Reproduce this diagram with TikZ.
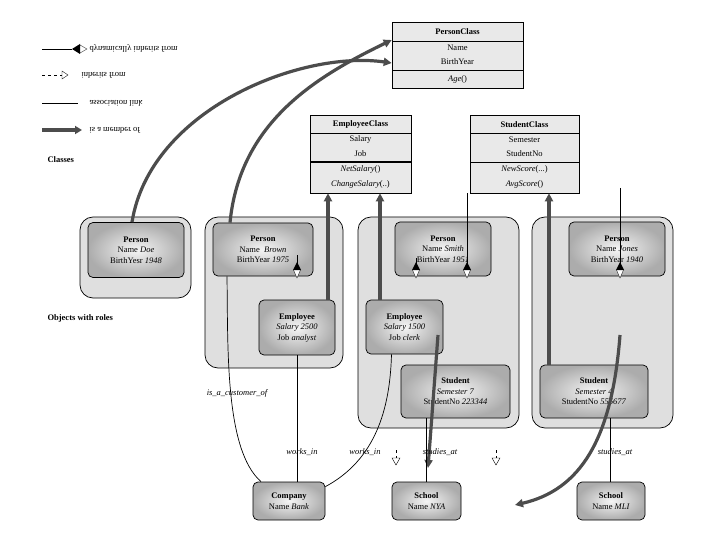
\documentclass[tikz,border=0pt]{standalone}
\usepackage{fontspec}
\setmainfont{Liberation Serif}
\usepackage{graphicx}
\usetikzlibrary{arrows.meta,calc}
\begin{document}
\begin{tikzpicture}[x=1pt,y=-1pt,font=\fontsize{8.5}{10.5}\selectfont,
  obj/.style={draw,rounded corners=5pt,inner color=gray!8,outer color=gray!65,align=center,line width=0.7pt},
  cont/.style={draw,rounded corners=13pt,fill=gray!25,line width=0.7pt},
  cls/.style={draw,fill=gray!17,line width=0.6pt},
  mem/.style={line width=3.2pt,draw=gray!60!black,-{Triangle[length=8pt,width=8pt]}},
  assoc/.style={line width=0.7pt},
  dyn/.pic={\fill (0,-8)--(-4,0)--(4,0)--cycle; \filldraw[fill=white,line width=0.3pt] (-3.5,0)--(3.5,0)--(0,8)--cycle;},
  inh/.pic={\draw[dashed,line width=0.4pt] (0,-10)--(0,-2); \draw[line width=0.4pt,fill=white] (-4,-2)--(4,-2)--(0,5)--cycle;},
  lbl/.style={font=\fontsize{8.5}{10.5}\selectfont\itshape}]
\useasboundingbox (0,0) rectangle (720,540);
% legend
\draw[line width=0.6pt] (42,49)--(72,49);
\fill (72,49)--(80,44)--(80,54)--cycle;
\filldraw[fill=white,line width=0.3pt] (80,45)--(87,49)--(80,53)--cycle;
\draw[dashed,line width=0.5pt] (42,75)--(62,75);
\draw[fill=white,line width=0.4pt] (62,71)--(68,75)--(62,79)--cycle;
\draw[line width=0.6pt] (42,103)--(78,103);
\draw[mem,-{Triangle[length=7pt,width=8pt]}] (42,130)--(82,130);
\node[anchor=west] (l1) at (86,49) {\scalebox{1}[-1]{dynamically inherits from}};
\node[anchor=west] (l2) at (78,75) {\scalebox{1}[-1]{inherits from}};
\node[anchor=west] (l3) at (86,103) {\scalebox{1}[-1]{association link}};
\node[anchor=west] (l4) at (86,130) {\scalebox{1}[-1]{is a member of}};
\node[anchor=west,font=\fontsize{8.5}{10}\selectfont\bfseries] (cl) at (44,160) {Classes};
\node[anchor=west,font=\fontsize{8.5}{10}\selectfont\bfseries] (owr) at (44,318) {Objects with roles};
% classes
\node[cls,minimum width=131,minimum height=66] (pc) at (457.5,55) {};
\draw (392,41)--(523,41) (392,70)--(523,70);
\node at (457.5,32) {\textbf{PersonClass}};
\node at (457.5,47.5) {Name};
\node at (457.5,62) {BirthYear};
\node at (457.5,79) {\textit{Age}()};
\node[cls,minimum width=101,minimum height=78] (ec) at (360.5,154) {};
\draw (310,133)--(411,133); \draw[line width=1.3pt] (310,162)--(411,162);
\node at (360.5,124.5) {\textbf{EmployeeClass}};
\node at (360.5,139.5) {Salary};
\node at (360.5,154) {Job};
\node at (360.5,169) {\textit{NetSalary}()};
\node at (360.5,184) {\textit{ChangeSalary}(..)};
\node[cls,minimum width=109,minimum height=78] (sc) at (524.5,154) {};
\draw (470,133)--(579,133) (470,162)--(579,162);
\node at (524.5,124.5) {\textbf{StudentClass}};
\node at (524.5,139.5) {Semester};
\node at (524.5,154) {StudentNo};
\node at (524.5,169) {\textit{NewScore}(...)};
\node at (524.5,184) {\textit{AvgScore}()};
% containers
\draw[cont] (80,217) rectangle (191,298);
\draw[cont] (205,217) rectangle (343,368);
\draw[cont] (358,217) rectangle (519,428);
\draw[cont] (532,217) rectangle (673,428);
% objects
\node[obj,minimum width=96,minimum height=55] (pdoe) at (136,250) {\textbf{Person}\\Name \textit{Doe}\\BirthYesr \textit{1948}};
\node[obj,minimum width=100,minimum height=53] (pbrown) at (263,249.5) {\textbf{Person}\\Name \textit{ Brown}\\BirthYear \textit{1975}};
\node[obj,minimum width=76,minimum height=55] (ebrown) at (297,327.5) {\textbf{Employee}\\\textit{Salary 2500}\\Job \textit{analyst}};
\node[obj,minimum width=96,minimum height=54] (psmith) at (443,249) {\textbf{Person}\\Name \textit{Smith}\\BirthYear \textit{1951}};
\node[obj,minimum width=77,minimum height=54] (esmith) at (404.5,327) {\textbf{Employee}\\\textit{Salary 1500}\\Job \textit{clerk}};
\node[obj,minimum width=109,minimum height=53] (ssmith) at (455.5,391.5) {\textbf{Student}\\\textit{Semester 7}\\StudentNo \textit{223344}};
\node[obj,minimum width=96,minimum height=54] (pjones) at (617,249) {\textbf{Person}\\Name \textit{Jones}\\BirthYear \textit{1940}};
\node[obj,minimum width=108,minimum height=53] (sjones) at (594,391.5) {\textbf{Student}\\\textit{Semester 4}\\StudentNo \textit{556677}};
\node[obj,minimum width=72,minimum height=38] (company) at (289,501) {\textbf{Company}\\Name \textit{Bank}};
\node[obj,minimum width=69,minimum height=38] (school1) at (426.5,501) {\textbf{School}\\Name \textit{NYA}};
\node[obj,minimum width=68,minimum height=38] (school2) at (611,501) {\textbf{School}\\Name \textit{MLI}};
% member-of arrows
\draw[mem] ([xshift=-4pt]pdoe.north) .. controls (150,110) and (300,50) .. ([yshift=-8pt]pc.west);
\draw[mem] ([xshift=-33pt]pbrown.north) .. controls (240,120) and (320,75) .. ([yshift=15pt]pc.west);
\draw[mem] (ebrown.north -| 328,0) -- (ec.south -| 328,0);
\draw[mem] (esmith.north -| 380,0) -- (ec.south -| 380,0);
\draw[mem] (sjones.north -| 549,0) -- (sc.south -| 549,0);
\coordinate (ms) at (438,335);
\coordinate (mse) at (428,468);
\draw[mem] (ms) -- (mse);
\coordinate (mj) at (620,335);
\coordinate (mje) at (515,505);
\draw[mem] (mj) .. controls (612,440) and (580,490) .. (mje);
% dynamic inheritance
\coordinate (db) at (297,255);
\draw[line width=0.5pt] (db) -- (297,270);
\pic at (297,270) {dyn};
\coordinate (ds) at (416,258);
\draw[line width=0.5pt] (ds) -- (416,270);
\pic at (416,270) {dyn};
\draw[line width=0.5pt] (sc.south -| 467,0) -- (467,270);
\pic at (467,270) {dyn};
\coordinate (dj) at (620,188);
\draw[line width=0.5pt] (dj) -- (620,270);
\pic at (620,270) {dyn};
% associations
\draw[assoc] ([xshift=-36pt]pbrown.south) .. controls (228,350) and (225,450) .. ([xshift=-28pt]company.north);
\draw[assoc,line width=1pt] (ebrown.south) -- (company.north -| ebrown.south);
\draw[assoc] ([xshift=-13pt]esmith.south) .. controls (390,410) and (375,460) .. ([yshift=-5pt]company.north east);
\draw[line width=0.5pt] (ssmith.south -| 426,0) -- (school1.north -| 426,0);
\draw[assoc,line width=1pt] (sjones.south -| 610,0) -- (school2.north -| 610,0);
% labels
\node[lbl] (t1) at (237,393) {is\_a\_customer\_of};
\node[lbl] (t2) at (302,452) {works\_in};
\node[lbl] (t3) at (365,452) {works\_in};
\node[lbl] (t4) at (440,452) {studies\_at};
\node[lbl] (t5) at (615,452) {studies\_at};
\pic at (396,460) {inh};
\pic at (496,460) {inh};
\end{tikzpicture}
\end{document}
